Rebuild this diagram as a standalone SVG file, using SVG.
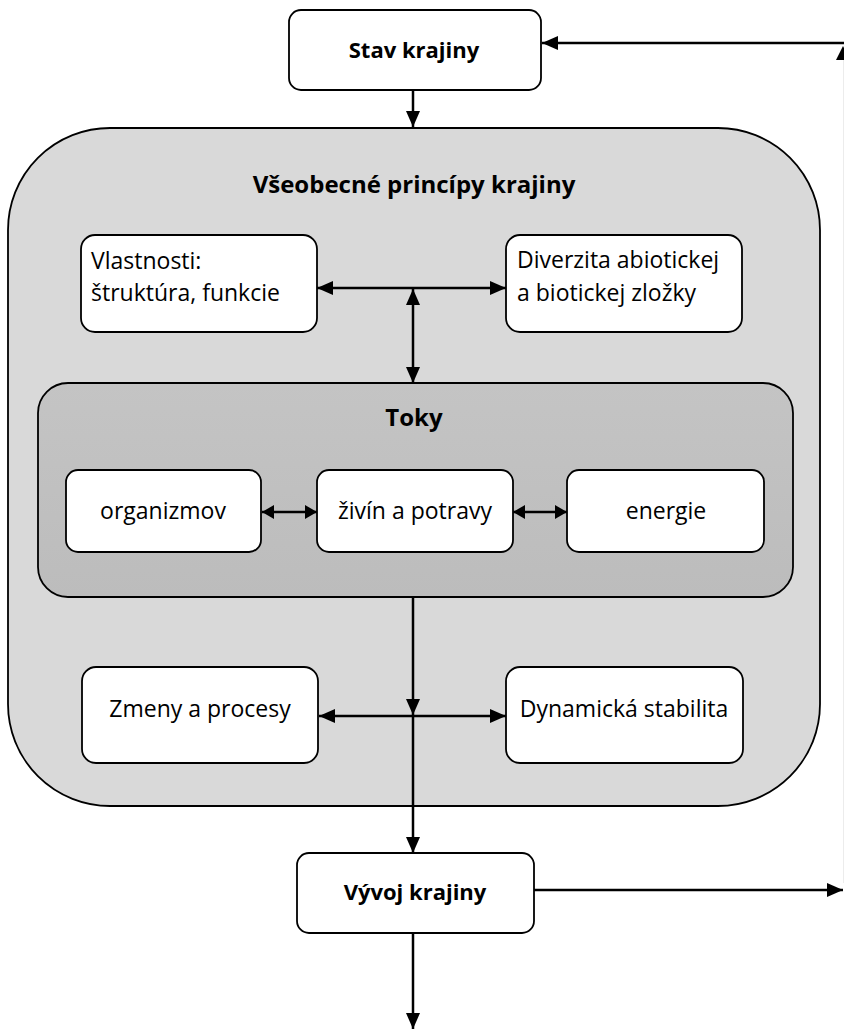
<svg xmlns="http://www.w3.org/2000/svg" width="844" height="1029" viewBox="0 0 844 1029">
<style>
.box{fill:#fff;stroke:#000;stroke-width:1.8}
.t{font-family:"Open Sans","Liberation Sans",sans-serif;font-size:23px;fill:#000}
.tb{font-family:"Open Sans","Liberation Sans",sans-serif;font-size:22px;font-weight:bold;fill:#000}
.tt{font-family:"Open Sans","Liberation Sans",sans-serif;font-size:24px;font-weight:bold;fill:#000}
.c{fill:none;stroke:#000;stroke-width:2.5}
</style>
<defs>
<marker id="a" markerUnits="userSpaceOnUse" markerWidth="16" markerHeight="16" viewBox="0 0 16 16" refX="16" refY="8" orient="auto-start-reverse">
<path d="M0,1 L16,8 L0,15 z" fill="#000"/>
</marker>
<marker id="s" markerUnits="userSpaceOnUse" markerWidth="12" markerHeight="14" viewBox="0 0 12 14" refX="12" refY="7" orient="auto-start-reverse">
<path d="M0,0 L12,7 L0,14 z" fill="#000"/>
</marker>
<linearGradient id="g" x1="0" y1="0" x2="0" y2="1">
<stop offset="0" stop-color="#c4c4c4"/>
<stop offset="1" stop-color="#bcbcbc"/>
</linearGradient>
</defs>
<rect width="844" height="1029" fill="#fff"/>

<g id="principy">
<rect x="8" y="128" width="812" height="678" rx="102" ry="102" fill="#d9d9d9" stroke="#000" stroke-width="1.8"/>
<text class="tt" x="414" y="193" text-anchor="middle">Všeobecné princípy krajiny</text>
</g>

<g id="toky">
<rect x="38" y="383" width="755" height="214" rx="30" ry="30" fill="url(#g)" stroke="#000" stroke-width="1.8"/>
<text class="tt" x="414" y="426" text-anchor="middle">Toky</text>
</g>

<g id="stav">
<rect class="box" x="289" y="10" width="252" height="80" rx="12"/>
<text class="tb" x="414" y="58" text-anchor="middle">Stav krajiny</text>
</g>

<g id="vlastnosti">
<rect class="box" x="81" y="235" width="236" height="97" rx="14"/>
<text class="t" x="91" y="269">Vlastnosti:</text>
<text class="t" x="91" y="301">štruktúra, funkcie</text>
</g>

<g id="diverzita">
<rect class="box" x="506" y="235" width="236" height="97" rx="14"/>
<text class="t" x="517" y="268">Diverzita abiotickej</text>
<text class="t" x="517" y="301">a biotickej zložky</text>
</g>

<g id="organizmov">
<rect class="box" x="66" y="470" width="195" height="82" rx="12"/>
<text class="t" x="163" y="519" text-anchor="middle">organizmov</text>
</g>

<g id="zivin">
<rect class="box" x="317" y="470" width="196" height="82" rx="12"/>
<text class="t" x="415" y="519" text-anchor="middle">živín a potravy</text>
</g>

<g id="energie">
<rect class="box" x="567" y="470" width="197" height="82" rx="12"/>
<text class="t" x="666" y="519" text-anchor="middle">energie</text>
</g>

<g id="zmeny">
<rect class="box" x="82" y="667" width="236" height="96" rx="14"/>
<text class="t" x="200" y="717" text-anchor="middle">Zmeny a procesy</text>
</g>

<g id="dynamicka">
<rect class="box" x="506" y="667" width="237" height="96" rx="14"/>
<text class="t" x="624" y="717" text-anchor="middle">Dynamická stabilita</text>
</g>

<g id="vyvoj">
<rect class="box" x="297" y="853" width="237" height="80" rx="12"/>
<text class="tb" x="415" y="900" text-anchor="middle">Vývoj krajiny</text>
</g>

<g id="connectors">
<line class="c" x1="413" y1="90" x2="413" y2="127" marker-end="url(#a)"/>
<line class="c" x1="844" y1="43" x2="542" y2="43" marker-end="url(#a)"/>
<line x1="843.5" y1="60" x2="843.5" y2="883" stroke="#ececec" stroke-width="1"/>
<path d="M843,46 L836,60 L850,60 z" fill="#000"/>
<line class="c" x1="317" y1="288" x2="506" y2="288" marker-start="url(#a)" marker-end="url(#a)"/>
<line class="c" x1="413" y1="289" x2="413" y2="383" marker-start="url(#a)" marker-end="url(#a)"/>
<line class="c" x1="262" y1="512" x2="317" y2="512" marker-start="url(#s)" marker-end="url(#s)"/>
<line class="c" x1="513" y1="512" x2="567" y2="512" marker-start="url(#s)" marker-end="url(#s)"/>
<line class="c" x1="413" y1="597" x2="413" y2="715" marker-end="url(#a)"/>
<line class="c" x1="413" y1="715" x2="413" y2="853" marker-end="url(#a)"/>
<line class="c" x1="413" y1="716" x2="319" y2="716" marker-end="url(#a)"/>
<line class="c" x1="413" y1="716" x2="506" y2="716" marker-end="url(#a)"/>
<line class="c" x1="534" y1="890" x2="843" y2="890" marker-end="url(#a)"/>
<line class="c" x1="413" y1="933" x2="413" y2="1029" marker-end="url(#a)"/>
</g>
</svg>
